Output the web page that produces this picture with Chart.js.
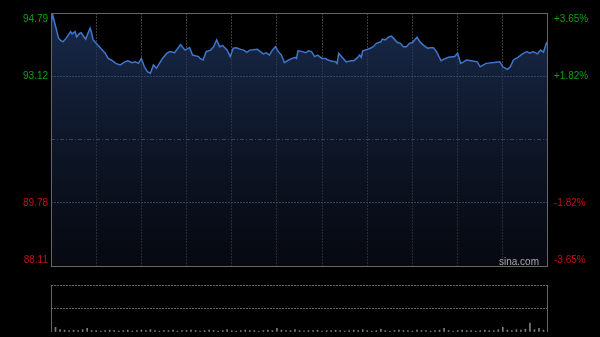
<!DOCTYPE html>
<html>
<head>
<meta charset="utf-8">
<script src="https://cdn.jsdelivr.net/npm/chart.js@4/dist/chart.umd.min.js"></script>
<style>
html, body { margin: 0; padding: 0; background: #000; }
#wrap { position: relative; width: 600px; height: 337px; overflow: hidden; }
.layer { position: absolute; left: 0; top: 0; width: 600px; height: 337px; }
#logo { position: absolute; left: 499px; top: 256px; font: 10px "Liberation Sans", Arial, sans-serif; color: #a8a8a8; }
</style>
</head>
<body>
<div id="wrap">
  <div class="layer"><canvas id="chart"></canvas></div>
  <div class="layer"><canvas id="vol"></canvas></div>
  <div id="logo">sina.com</div>
</div>
<script>
// minutes since open (HK session, 330 min) and last price
const times = [
  0, 1, 5, 6, 8, 10, 13, 14, 16, 17,
  19, 20, 23, 25, 26, 27, 28, 30, 33, 36,
  38, 40, 43, 46, 49, 51, 54, 56, 58, 60,
  62, 64, 66, 68, 70, 74, 77, 79, 82, 86,
  89, 92, 94, 98, 99, 101, 103, 106, 108, 110,
  112, 114, 117, 119, 121, 123, 126, 128, 130, 132,
  137, 139, 141, 143, 145, 147, 149, 151, 153, 155,
  157, 160, 162, 163, 164, 167, 169, 171, 173, 175,
  177, 180, 182, 184, 186, 189, 190, 191, 194, 196,
  199, 201, 203, 205, 206, 207, 210, 212, 214, 216,
  219, 220, 222, 224, 226, 228, 230, 232, 234, 236,
  238, 240, 243, 245, 247, 250, 252, 254, 256, 259,
  262, 264, 268, 270, 272, 274, 276, 279, 283, 285,
  287, 289, 294, 298, 300, 303, 305, 307, 310, 313,
  316, 318, 320, 323, 325, 327, 329, 330
];
const prices = [
  94.47, 94.76, 94.13, 94.08, 94.03, 94.12, 94.30, 94.24, 94.30, 94.16,
  94.25, 94.27, 94.10, 94.30, 94.39, 94.25, 94.08, 93.99, 93.86, 93.73,
  93.59, 93.55, 93.46, 93.42, 93.50, 93.53, 93.48, 93.50, 93.46, 93.59,
  93.37, 93.24, 93.20, 93.42, 93.33, 93.59, 93.73, 93.77, 93.74, 93.95,
  93.81, 93.88, 93.68, 93.64, 93.59, 93.55, 93.77, 93.81, 93.90, 94.08,
  93.90, 93.93, 93.81, 93.64, 93.86, 93.87, 93.83, 93.81, 93.75, 93.81,
  93.83, 93.77, 93.71, 93.74, 93.68, 93.81, 93.90, 93.77, 93.68, 93.48,
  93.53, 93.59, 93.62, 93.59, 93.79, 93.77, 93.74, 93.79, 93.77, 93.64,
  93.68, 93.59, 93.59, 93.55, 93.52, 93.50, 93.46, 93.73, 93.59, 93.50,
  93.53, 93.53, 93.59, 93.68, 93.62, 93.79, 93.83, 93.86, 93.90, 93.99,
  94.03, 94.10, 94.08, 94.15, 94.18, 94.10, 94.01, 93.99, 93.90, 93.90,
  93.99, 94.01, 94.15, 94.03, 93.95, 93.86, 93.87, 93.87, 93.77, 93.53,
  93.59, 93.62, 93.64, 93.73, 93.46, 93.50, 93.55, 93.53, 93.50, 93.37,
  93.42, 93.46, 93.48, 93.50, 93.37, 93.30, 93.37, 93.55, 93.62, 93.71,
  93.77, 93.73, 93.77, 93.71, 93.81, 93.76, 94.00, 93.97
];

// volume, one bar every 3 minutes (relative units, axis max 100)
const volumes = [
  21, 10, 5, 4, 3, 4, 3, 5, 8, 3,
  3, 2, 3, 4, 3, 2, 3, 4, 2, 3,
  4, 3, 5, 3, 2, 3, 3, 4, 2, 3,
  3, 4, 3, 2, 3, 4, 3, 2, 3, 5,
  3, 2, 3, 4, 3, 3, 2, 3, 4, 3,
  8, 4, 3, 3, 5, 3, 2, 3, 3, 4,
  2, 3, 3, 4, 3, 2, 3, 4, 3, 5,
  3, 2, 3, 6, 3, 2, 3, 4, 3, 3,
  2, 4, 3, 3, 2, 3, 4, 8, 3, 2,
  3, 4, 3, 3, 2, 3, 4, 3, 3, 5,
  10, 4, 3, 5, 4, 6, 19, 5, 8, 4, 5
];

const yTicks = [88.11, 89.78, 91.45, 93.12, 94.79];
const leftLabels = ['88.11', '89.78', '', '93.12', '94.79'];
const rightLabels = ['-3.65%', '-1.82%', '', '+1.82%', '+3.65%'];
const prevClose = 91.45;

const FONT = { family: '"Liberation Sans", Arial, sans-serif', size: 10, lineHeight: 1.2 };
const GREEN = '#10a010';
const RED = '#c41010';

// push the top label down and the bottom label up so they stay inside the box
function shifted(label, i) {
  if (i === yTicks.length - 1) return ['', label];
  if (i === 0) return [label, ''];
  return label;
}

function gridColor(c) {
  if (c.index === 0 || c.index === yTicks.length - 1) return 'transparent';
  if (c.index === 2) return '#5f6f88';
  return '#6a6a6a';
}

const frame = {
  id: 'frame',
  afterDatasetsDraw(chart) {
    const a = chart.chartArea, ctx = chart.ctx;
    ctx.save();
    ctx.strokeStyle = '#666';
    ctx.lineWidth = 1;
    ctx.strokeRect(Math.round(a.left) + 0.5, Math.round(a.top) + 0.5,
      Math.round(a.right - a.left) - 1, Math.round(a.bottom - a.top));
    ctx.restore();
  }
};

new Chart(document.getElementById('chart'), {
  type: 'line',
  data: {
    datasets: [{
      data: times.map((t, i) => ({ x: t, y: prices[i] })),
      borderColor: '#3f76cc',
      borderWidth: 1.5,
      pointRadius: 0,
      tension: 0,
      fill: 'start',
      backgroundColor: (c) => {
        const a = c.chart.chartArea;
        if (!a) return 'rgba(30,50,90,0.5)';
        const g = c.chart.ctx.createLinearGradient(0, a.top, 0, a.bottom);
        g.addColorStop(0, 'rgba(34,58,104,0.72)');
        g.addColorStop(1, 'rgba(14,20,36,0.45)');
        return g;
      }
    }]
  },
  options: {
    animation: false,
    responsive: true,
    maintainAspectRatio: false,
    layout: { padding: { top: 13, bottom: 71, left: 0, right: 0 } },
    plugins: { legend: { display: false }, tooltip: { enabled: false } },
    scales: {
      x: {
        type: 'linear', min: 0, max: 330,
        ticks: { display: false, stepSize: 30 },
        grid: {
          drawTicks: false,
          color: (c) => (c.tick.value === 0 || c.tick.value === 330) ? 'transparent' : '#3c3c3c'
        },
        border: { display: false, dash: [2, 1] }
      },
      y: {
        min: 88.11, max: 94.79,
        afterBuildTicks: (s) => { s.ticks = yTicks.map(v => ({ value: v })); },
        afterFit: (s) => { s.width = 51; s.paddingTop = 0; s.paddingBottom = 0; },
        ticks: {
          padding: 3,
          font: FONT,
          color: (c) => c.tick.value > prevClose ? GREEN : RED,
          callback: (v, i) => shifted(leftLabels[i], i)
        },
        grid: { drawTicks: false, color: gridColor },
        border: { display: false, dash: (c) => c.index === 2 ? [4, 2, 1, 2] : [2, 1] }
      },
      y2: {
        position: 'right',
        min: 88.11, max: 94.79,
        afterBuildTicks: (s) => { s.ticks = yTicks.map(v => ({ value: v })); },
        afterFit: (s) => { s.width = 52; s.paddingTop = 0; s.paddingBottom = 0; },
        ticks: {
          padding: 6,
          font: FONT,
          color: (c) => c.tick.value > prevClose ? GREEN : RED,
          callback: (v, i) => shifted(rightLabels[i], i)
        },
        grid: { drawTicks: false, drawOnChartArea: false },
        border: { display: false }
      }
    }
  },
  plugins: [frame]
});

const sides = {
  id: 'sides',
  afterDatasetsDraw(chart) {
    const a = chart.chartArea, ctx = chart.ctx;
    ctx.save();
    ctx.strokeStyle = '#666';
    ctx.lineWidth = 1;
    ctx.beginPath();
    ctx.moveTo(Math.round(a.left) + 0.5, a.top);
    ctx.lineTo(Math.round(a.left) + 0.5, a.bottom);
    ctx.moveTo(Math.round(a.right) - 0.5, a.top);
    ctx.lineTo(Math.round(a.right) - 0.5, a.bottom);
    ctx.stroke();
    ctx.restore();
  }
};

new Chart(document.getElementById('vol'), {
  type: 'bar',
  data: {
    datasets: [{
      data: volumes.map((v, i) => ({ x: i * 3, y: v })),
      backgroundColor: '#7c7c7c',
      barThickness: 1
    }]
  },
  options: {
    animation: false,
    responsive: true,
    maintainAspectRatio: false,
    layout: { padding: { top: 285, bottom: 5, left: 51, right: 52 } },
    plugins: { legend: { display: false }, tooltip: { enabled: false } },
    scales: {
      x: { type: 'linear', min: 0, max: 330, offset: false, display: false, grid: { offset: false } },
      y: {
        min: 0, max: 100,
        afterBuildTicks: (s) => { s.ticks = [0, 50, 100].map(v => ({ value: v })); },
        afterFit: (s) => { s.width = 0; s.paddingTop = 0; s.paddingBottom = 0; },
        ticks: { display: false },
        grid: { drawTicks: false, color: (c) => c.index === 0 ? 'transparent' : '#6a6a6a' },
        border: { display: false, dash: [2, 1] }
      }
    }
  },
  plugins: [sides]
});
</script>
</body>
</html>
